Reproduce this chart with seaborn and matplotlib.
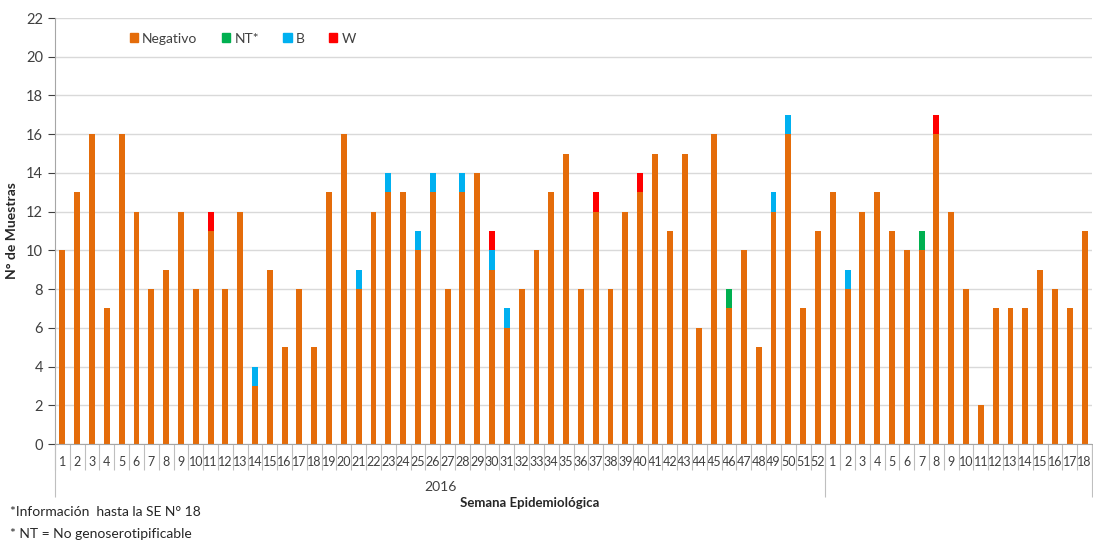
import numpy as np
import pandas as pd
import seaborn as sns
import matplotlib.pyplot as plt
from matplotlib.patches import Patch
import matplotlib.transforms as mtransforms

# week labels: 2016 weeks 1-52, 2017 weeks 1-18
weeks_2016 = list(range(1, 53))
weeks_2017 = list(range(1, 19))

negativo = [10, 13, 16, 7, 16, 12, 8, 9, 12, 8, 11, 8, 12, 3, 9, 5, 8, 5, 13, 16,
            8, 12, 13, 13, 10, 13, 8, 13, 14, 9, 6, 8, 10, 13, 15, 8, 12, 8, 12, 13,
            15, 11, 15, 6, 16, 7, 10, 5, 12, 16, 7, 11,
            13, 8, 12, 13, 11, 10, 10, 16, 12, 8, 2, 7, 7, 7, 9, 8, 7, 11]
nt = [0] * 45 + [1] + [0] * 6 + [0, 0, 0, 0, 0, 0, 1] + [0] * 11
b = [0, 0, 0, 0, 0, 0, 0, 0, 0, 0, 0, 0, 0, 1, 0, 0, 0, 0, 0, 0,
     1, 0, 1, 0, 1, 1, 0, 1, 0, 1, 1, 0, 0, 0, 0, 0, 0, 0, 0, 0,
     0, 0, 0, 0, 0, 0, 0, 0, 1, 1, 0, 0,
     0, 1, 0, 0, 0, 0, 0, 0, 0, 0, 0, 0, 0, 0, 0, 0, 0, 0]
w = [0, 0, 0, 0, 0, 0, 0, 0, 0, 0, 1, 0, 0, 0, 0, 0, 0, 0, 0, 0,
     0, 0, 0, 0, 0, 0, 0, 0, 0, 1, 0, 0, 0, 0, 0, 0, 1, 0, 0, 1,
     0, 0, 0, 0, 0, 0, 0, 0, 0, 0, 0, 0,
     0, 0, 0, 0, 0, 0, 0, 1, 0, 0, 0, 0, 0, 0, 0, 0, 0, 0]

keys = [f"2016-{k}" for k in weeks_2016] + [f"2017-{k}" for k in weeks_2017]
labels = [str(k) for k in weeks_2016 + weeks_2017]

df = pd.DataFrame({"semana": keys, "Negativo": negativo, "NT": nt, "B": b, "W": w})
df["c_neg"] = df["Negativo"]
df["c_nt"] = df["c_neg"] + df["NT"]
df["c_b"] = df["c_nt"] + df["B"]
df["c_w"] = df["c_b"] + df["W"]

colors = {"Negativo": "#E46C0A", "NT*": "#00B050", "B": "#00B0F0", "W": "#FF0000"}

sns.set_style("white")
plt.rcParams["font.family"] = ["Lato", "DejaVu Sans"]

fig = plt.figure(figsize=(10.93, 5.42), dpi=100)
ax = fig.add_axes([55 / 1093, 98 / 542, 1037 / 1093, 426 / 542])

# overlay cumulative sums, tallest first
for col, name in [("c_w", "W"), ("c_b", "B"), ("c_nt", "NT*"), ("c_neg", "Negativo")]:
    sns.barplot(data=df, x="semana", y=col, order=keys, color=colors[name],
                width=0.4, linewidth=0, saturation=1, ax=ax)

ax.set_ylim(0, 22)
ax.set_yticks(range(0, 23, 2))
ax.set_xlim(-0.5, len(keys) - 0.5)
ax.set_xticks(range(len(keys)))
ax.set_xticklabels(labels, fontsize=9, color="#404040")
ax.tick_params(axis="x", length=0, pad=9)
ax.tick_params(axis="y", labelsize=10.5, colors="#404040", length=5, width=0.8,
               direction="out", left=True)
ax.yaxis.grid(True, color="#D9D9D9", linewidth=1)
ax.set_axisbelow(True)
for s in ["top", "right"]:
    ax.spines[s].set_visible(False)
ax.spines["left"].set_color("#A6A6A6")
ax.spines["bottom"].set_color("#A6A6A6")
ax.set_xlabel("")
ax.set_ylabel("N° de Muestras", fontsize=10, fontweight="bold", labelpad=6)

# category separators below the axis
trans = mtransforms.blended_transform_factory(ax.transData, ax.transAxes)
seps = np.arange(len(keys) + 1) - 0.5
ax.vlines(seps, -0.062, 0, transform=trans, color="#BFBFBF", linewidth=0.8, clip_on=False)
ax.vlines([-0.5, 51.5, len(keys) - 0.5], -0.125, 0, transform=trans,
          color="#BFBFBF", linewidth=0.8, clip_on=False)
ax.text(25.5, -0.101, "2016", transform=trans, ha="center", va="center",
        fontsize=10, color="#404040")

fig.text(530 / 1093, 1 - 503 / 542, "Semana Epidemiológica", ha="center", va="center",
         fontsize=9.5, fontweight="bold", color="#262626")
fig.text(10 / 1093, 1 - 512 / 542, "*Información  hasta la SE N° 18", ha="left",
         va="center", fontsize=10, color="#262626")
fig.text(10 / 1093, 1 - 534 / 542, "* NT = No genoserotipificable", ha="left",
         va="center", fontsize=10, color="#262626")

handles = [Patch(color=colors[n], label=n) for n in ["Negativo", "NT*", "B", "W"]]
ax.legend(handles=handles, loc="upper left", bbox_to_anchor=(0.06, 0.995), ncol=4,
          frameon=False, fontsize=10, handlelength=0.6, handleheight=0.6,
          handletextpad=0.3, columnspacing=1.75, labelcolor="#404040")

fig.savefig("out.png", dpi=100)
